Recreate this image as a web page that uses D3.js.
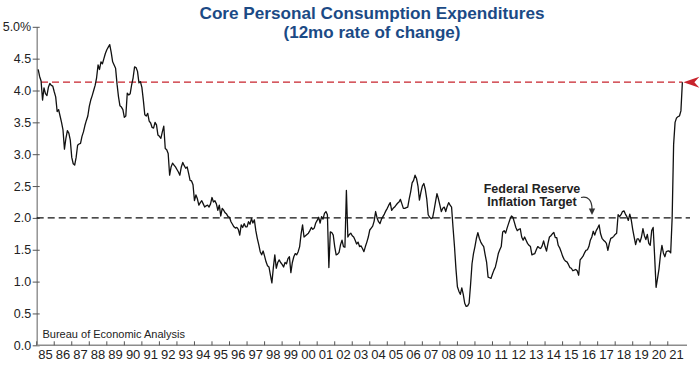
<!DOCTYPE html>
<html>
<head>
<meta charset="utf-8">
<script src="https://cdn.jsdelivr.net/npm/d3@7"></script>
<style>
  body { margin: 0; background: #fff; }
  svg { display: block; }
</style>
</head>
<body>
<div id="viz"></div>
<script>
// core PCE, 12 month % change, one row per year (Jan..Dec)
const firstYear = 1985;
const pceByYear = [
  [4.33, 4.22, 4.15, 3.85, 4.04, 3.95, 3.92, 4.05, 4.11, 4.08, 4.07, 3.98], // 85
  [3.90, 3.67, 3.70, 3.60, 3.50, 3.38, 3.08, 3.25, 3.37, 3.33, 3.22, 2.95],
  [2.85, 2.83, 2.95, 3.14, 3.16, 3.17, 3.28, 3.35, 3.45, 3.53, 3.60, 3.75],
  [3.85, 3.92, 4.00, 4.08, 4.20, 4.40, 4.33, 4.45, 4.42, 4.50, 4.58, 4.64],
  [4.68, 4.72, 4.60, 4.45, 4.40, 4.35, 4.10, 3.90, 3.76, 3.74, 3.70, 3.58],
  [3.60, 3.96, 3.93, 3.95, 4.09, 4.20, 4.37, 4.36, 4.30, 4.12, 4.14, 4.05], // 90
  [3.85, 3.62, 3.60, 3.64, 3.52, 3.49, 3.42, 3.41, 3.50, 3.46, 3.30, 3.28],
  [3.25, 3.35, 3.44, 3.09, 3.07, 3.01, 2.67, 2.80, 2.86, 2.83, 2.80, 2.76],
  [2.72, 2.67, 2.80, 2.87, 2.82, 2.78, 2.80, 2.70, 2.59, 2.58, 2.52, 2.27],
  [2.36, 2.30, 2.20, 2.24, 2.27, 2.22, 2.17, 2.19, 2.20, 2.17, 2.22, 2.32],
  [2.25, 2.27, 2.22, 2.12, 2.20, 2.03, 2.15, 2.12, 2.08, 2.06, 2.02, 2.01], // 95
  [1.94, 1.90, 1.86, 1.84, 1.85, 1.82, 1.73, 1.89, 1.85, 1.91, 1.86, 1.86],
  [1.94, 1.90, 1.99, 1.92, 1.97, 1.80, 1.68, 1.58, 1.47, 1.42, 1.48, 1.40],
  [1.31, 1.25, 1.23, 1.10, 0.98, 1.22, 1.42, 1.21, 1.30, 1.34, 1.30, 1.27],
  [1.23, 1.30, 1.28, 1.36, 1.39, 1.14, 1.30, 1.39, 1.44, 1.42, 1.47, 1.55],
  [1.75, 1.89, 1.70, 1.72, 1.74, 1.76, 1.80, 1.85, 1.82, 1.84, 1.92, 1.96], // 00
  [2.01, 1.92, 2.02, 1.98, 2.07, 2.10, 2.05, 1.22, 1.78, 1.77, 1.73, 1.55],
  [1.42, 1.43, 1.46, 1.58, 1.65, 1.55, 1.54, 2.43, 1.70, 1.74, 1.76, 1.72],
  [1.70, 1.65, 1.59, 1.62, 1.55, 1.56, 1.52, 1.47, 1.55, 1.62, 1.70, 1.81],
  [1.84, 1.87, 1.95, 2.10, 2.00, 1.94, 1.91, 1.98, 2.02, 2.06, 2.11, 2.15],
  [2.20, 2.24, 2.12, 2.15, 2.17, 2.20, 2.23, 2.25, 2.29, 2.22, 2.15, 2.15], // 05
  [2.16, 2.17, 2.30, 2.41, 2.55, 2.59, 2.67, 2.62, 2.50, 2.28, 2.40, 2.50],
  [2.54, 2.45, 2.30, 2.05, 2.01, 1.99, 2.00, 2.12, 2.25, 2.38, 2.30, 2.20],
  [2.10, 2.15, 2.17, 2.10, 2.18, 2.24, 2.20, 2.17, 1.85, 1.55, 1.20, 0.92],
  [0.85, 0.80, 0.90, 0.80, 0.66, 0.61, 0.62, 0.66, 0.95, 1.28, 1.44, 1.55],
  [1.68, 1.77, 1.68, 1.62, 1.58, 1.55, 1.42, 1.30, 1.07, 1.06, 1.05, 1.12], // 10
  [1.18, 1.23, 1.33, 1.44, 1.50, 1.55, 1.78, 1.80, 1.76, 1.84, 1.91, 1.98],
  [2.03, 2.01, 1.93, 1.85, 1.80, 1.82, 1.83, 1.70, 1.65, 1.70, 1.65, 1.60],
  [1.57, 1.55, 1.42, 1.43, 1.44, 1.50, 1.55, 1.53, 1.52, 1.56, 1.64, 1.55],
  [1.48, 1.60, 1.70, 1.72, 1.75, 1.77, 1.69, 1.69, 1.57, 1.53, 1.47, 1.40],
  [1.35, 1.32, 1.31, 1.27, 1.22, 1.21, 1.17, 1.18, 1.19, 1.17, 1.10, 1.34], // 15
  [1.37, 1.40, 1.45, 1.49, 1.50, 1.55, 1.65, 1.70, 1.79, 1.73, 1.80, 1.84],
  [1.89, 1.75, 1.68, 1.65, 1.63, 1.60, 1.49, 1.60, 1.68, 1.69, 1.71, 1.74],
  [1.76, 2.05, 2.02, 2.05, 2.10, 2.11, 2.06, 2.02, 1.96, 2.06, 1.97, 1.82],
  [1.70, 1.58, 1.67, 1.67, 1.62, 1.70, 1.83, 1.72, 1.66, 1.74, 1.60, 1.57],
  [1.80, 1.85, 1.40, 0.91, 1.05, 1.20, 1.42, 1.57, 1.45, 1.39, 1.47, 1.48], // 20
  [1.48, 1.45, 2.00, 3.15, 3.50, 3.57, 3.59, 3.60, 3.68, 4.13]
];

const yTicks = [0, 0.5, 1, 1.5, 2, 2.5, 3, 3.5, 4, 4.5, 5];
const yearLabels = ["85","86","87","88","89","90","91","92","93","94","95","96","97",
  "98","99","00","01","02","03","04","05","06","07","08","09","10","11","12","13",
  "14","15","16","17","18","19","20","21"];
const fedTarget = 2.0;
const latestValue = 4.13;

const width = 700, height = 365;
const font = "'Liberation Sans', Arial, Helvetica, sans-serif";

// flatten to points, each month plotted at its month end
const points = [];
pceByYear.forEach((row, i) => {
  row.forEach((v, m) => points.push({ t: firstYear + i + (m + 1) / 12, v }));
});

const x = d3.scaleLinear().domain([1985, 2022]).range([36.7, 685.3]);
const y = d3.scaleLinear().domain([0, 5]).range([345.3, 26.8]);

const svg = d3.select("#viz").append("svg")
  .attr("width", width).attr("height", height)
  .style("font-family", font);

// title
const title = svg.append("g").attr("fill", "#1b4a85").attr("font-weight", "bold")
  .attr("text-anchor", "middle").attr("font-size", 17);
title.append("text").attr("x", 372).attr("y", 18.5)
  .attr("textLength", 345).attr("lengthAdjust", "spacingAndGlyphs")
  .text("Core Personal Consumption Expenditures");
title.append("text").attr("x", 372).attr("y", 37.5)
  .attr("textLength", 177).attr("lengthAdjust", "spacingAndGlyphs")
  .text("(12mo rate of change)");

// y axis
const yAxis = svg.append("g")
  .attr("transform", `translate(${x.range()[0]},0)`)
  .call(d3.axisLeft(y).tickValues(yTicks).tickSizeOuter(0).tickSizeInner(4)
    .tickFormat(d => d === 5 ? "5.0%" : d.toFixed(1)));
yAxis.select(".domain").attr("stroke", "#8c8c8c").attr("stroke-width", 1.4);
yAxis.selectAll(".tick line").attr("stroke", "#555").attr("x1", 3).attr("x2", -4);
yAxis.selectAll(".tick text").attr("fill", "#222").attr("font-size", 12.5)
  .attr("font-family", font).attr("x", -5.5);

// x axis
const xAxisY = y(0);
svg.append("line")
  .attr("x1", x.range()[0]).attr("x2", 687)
  .attr("y1", xAxisY).attr("y2", xAxisY)
  .attr("stroke", "#8c8c8c").attr("stroke-width", 1.4);
const xTicks = svg.append("g").selectAll("g").data(yearLabels).join("g");
xTicks.append("line")
  .attr("x1", (d, i) => x(firstYear + i)).attr("x2", (d, i) => x(firstYear + i))
  .attr("y1", xAxisY).attr("y2", xAxisY - 4)
  .attr("stroke", "#555");
xTicks.append("text")
  .attr("x", (d, i) => x(firstYear + i + 0.5)).attr("y", 359)
  .attr("text-anchor", "middle").attr("font-size", 13).attr("fill", "#222")
  .text(d => d);

// reference lines
svg.append("line")
  .attr("x1", x.range()[0]).attr("x2", 690)
  .attr("y1", y(fedTarget)).attr("y2", y(fedTarget))
  .attr("stroke", "#111").attr("stroke-width", 1.2).attr("stroke-dasharray", "7,4");

const last = points[points.length - 1];
svg.append("line")
  .attr("x1", 41).attr("x2", x(last.t))
  .attr("y1", y(latestValue)).attr("y2", y(latestValue))
  .attr("stroke", "#c8232c").attr("stroke-width", 1.3).attr("stroke-dasharray", "7,4");

// red arrow head at the right edge
const ay = y(latestValue), ax = x(last.t) + 1;
svg.append("path")
  .attr("d", `M${ax},${ay} L${ax + 16},${ay - 5.5} L${ax + 11},${ay} L${ax + 16},${ay + 5.5} Z`)
  .attr("fill", "#c8232c");

// data line
svg.append("path")
  .datum(points)
  .attr("fill", "none")
  .attr("stroke", "#111")
  .attr("stroke-width", 1.3)
  .attr("stroke-linejoin", "round")
  .attr("d", d3.line().x(d => x(d.t)).y(d => y(d.v)));

// annotation
const note = svg.append("g").attr("font-weight", "bold").attr("font-size", 12.5)
  .attr("fill", "#222").attr("text-anchor", "middle");
note.append("text").attr("x", 532).attr("y", 192.5).text("Federal Reserve");
note.append("text").attr("x", 532).attr("y", 205.5).text("Inflation Target");
svg.append("path")
  .attr("d", "M581,197.5 C588,196 592,200 592,209")
  .attr("fill", "none").attr("stroke", "#333").attr("stroke-width", 1.2);
svg.append("path")
  .attr("d", "M588.8,208.5 L595.2,208.5 L592,215 Z")
  .attr("fill", "#333");

// source
svg.append("text")
  .attr("x", 42.5).attr("y", 337.5)
  .attr("font-size", 11).attr("fill", "#222")
  .text("Bureau of Economic Analysis");
</script>
</body>
</html>
